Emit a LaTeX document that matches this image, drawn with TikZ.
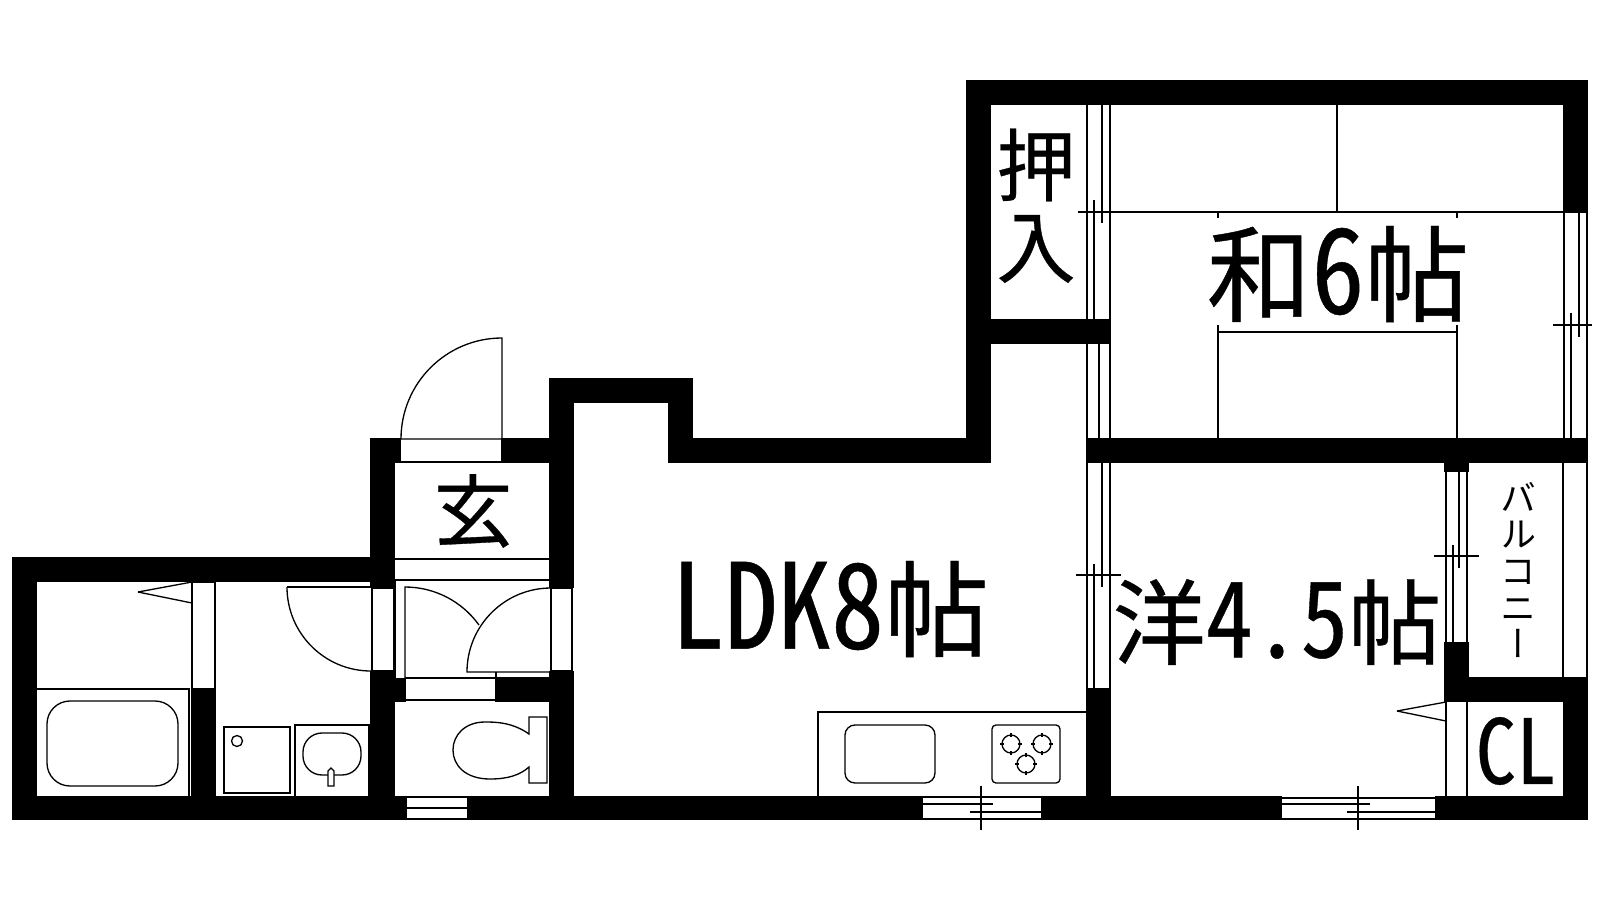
\documentclass[tikz,border=0pt]{standalone}
\usepackage{graphicx}
\usepackage{fontspec}
\usepackage{tikz}
\newfontfamily\jpfont[RawFeature=+hwid,FakeBold=0.4]{Noto Sans CJK JP}
\newfontfamily\jpvfont[RawFeature=+vert]{Noto Sans CJK JP}
\newcommand*{\tallch}[1]{\scalebox{1.02}[1.13]{#1}}
\tikzset{
	wall/.style={fill=black,draw=none},
	thin line/.style={line width=0.75pt,black},
	room label/.style={inner sep=0pt,font=\jpfont\fontsize{59.5}{59.5}\selectfont},
	small label/.style={inner sep=0pt,font=\jpfont\fontsize{45}{45}\selectfont},
}

\begin{document}
\begin{tikzpicture}[x=0.02cm,y=-0.02cm,thin line]
			\useasboundingbox (0,0) rectangle (1600,900);
			% thin lines first
			\draw (1087,105)--(1087,319);
			\draw (1110,105)--(1110,319);
			\draw (1102,105)--(1102,223);
			\draw (1094,200)--(1094,319);
			\draw (1087,344)--(1087,438);
			\draw (1099,344)--(1099,438);
			\draw (1110,344)--(1110,438);
			\draw (1087,463)--(1087,688);
			\draw (1110,463)--(1110,688);
			\draw (1102,463)--(1102,587);
			\draw (1094,564)--(1094,688);
			\draw (1076,575)--(1121,575);
			\draw (1078,212)--(1563,212);
			\draw (1337,105)--(1337,212);
			\draw (1218,212)--(1218,218);
			\draw (1457,212)--(1457,218);
			\draw (1218,325)--(1218,438);
			\draw (1457,325)--(1457,438);
			\draw (1218,332)--(1457,332);
			\draw (1564,213)--(1564,438);
			\draw (1587,213)--(1587,438);
			\draw (1579,213)--(1579,337);
			\draw (1571,313)--(1571,438);
			\draw (1553,325)--(1592,325);
			\draw (1563,463)--(1563,677);
			\draw (1587,463)--(1587,690);
			\draw (1446,472)--(1446,642);
			\draw (1467,472)--(1467,642);
			\draw (1459,472)--(1459,568);
			\draw (1453,545)--(1453,642);
			\draw (1434,556)--(1479,556);
			\draw (1446,702)--(1446,796);
			\draw (1467,702)--(1467,796);
			\draw (1397,711)--(1446,702);
			\draw (1397,711)--(1446,721);
			\draw (1282,798)--(1435,798);
			\draw (1282,804)--(1370,804);
			\draw (1347,812)--(1435,812);
			\draw (1282,819)--(1435,819);
			\draw (1358,786)--(1358,830);
			\draw (923,797)--(1041,797);
			\draw (923,804)--(993,804);
			\draw (970,812)--(1041,812);
			\draw (923,819)--(1041,819);
			\draw (981,786)--(981,830);
			\draw (407,797)--(467,797);
			\draw (407,808)--(467,808);
			\draw (407,819)--(467,819);
			\draw (818,796)--(818,712)--(1086,712);
			\draw[rounded corners=0.2cm] (845,725) rectangle (935,783);
			\draw[rounded corners=0.08cm] (992,725) rectangle (1060,783);
			\foreach \bx/\by in {1011/744,1042/744,1026/764}{
				\draw (\bx,\by) circle (0.18cm);
				\draw (\bx-11,\by)--(\bx-7,\by);
				\draw (\bx+7,\by)--(\bx+11,\by);
				\draw (\bx,\by-11)--(\bx,\by-7);
				\draw (\bx,\by+7)--(\bx,\by+11);
			}
			% entrance and hall
			\draw (401,439)--(502,439)--(502,338) arc (270:180:101);
			\draw (401,462)--(501,462);
			\draw (395,559)--(549,559);
			\draw (395,580)--(549,580);
			\draw (395,580)--(395,678);
			\draw (372,588)--(372,671);
			\draw (394,588)--(394,671);
			\draw (372,588)--(394,588);
			\draw (372,671)--(394,671);
			\draw (551,588)--(572,588)--(572,671)--(551,671)--cycle;
			\draw (405,678)--(405,587) arc (270:324.4:91);
			\draw (551,588) arc (270:180:84)--(551,672);
			\draw (405,678)--(496,678)--(496,672);
			\draw (406,700)--(495,700);
			\draw (529,734) .. controls (512,722) and (495,722) .. (485,722) .. controls (465,722) and (453,735) .. (453,750) .. controls (453,765) and (465,779) .. (490,779) .. controls (508,779) and (520,775) .. (529,767)--(529,783)--(547,783)--(547,717)--(529,717)--cycle;
			% bath and washroom
			\draw (192,688)--(192,582)--(215,582)--(215,688);
			\draw (138,592)--(192,582);
			\draw (138,592)--(192,603);
			\draw (37,689)--(189,689)--(189,796);
			\draw[rounded corners=0.46cm] (47,701) rectangle (178,786);
			\draw (224,727) rectangle (290,793);
			\draw (237,741) circle (0.11cm);
			\draw (295,796)--(295,725)--(369,725)--(369,796);
			\draw[rounded corners=0.38cm] (303,733) rectangle (361,775);
			\draw[fill=white] (328,786)--(328,771)--(331,768)--(334,771)--(334,786)--cycle;
			\draw (287,587)--(371,587);
			\draw (287,587) arc (180:90:84);
			% walls
			\fill[wall] (12,557) rectangle (395,582);
			\fill[wall] (12,557) rectangle (37,820);
			\fill[wall] (12,796) rectangle (407,820);
			\fill[wall] (467,796) rectangle (923,820);
			\fill[wall] (1041,796) rectangle (1282,820);
			\fill[wall] (1435,796) rectangle (1588,820);
			\fill[wall] (191,688) rectangle (216,796);
			\fill[wall] (370,438) rectangle (395,588);
			\fill[wall] (370,671) rectangle (395,796);
			\fill[wall] (395,678) rectangle (406,702);
			\fill[wall] (495,677) rectangle (549,702);
			\fill[wall] (370,438) rectangle (401,463);
			\fill[wall] (501,438) rectangle (549,463);
			\fill[wall] (549,378) rectangle (574,588);
			\fill[wall] (549,671) rectangle (574,796);
			\fill[wall] (549,378) rectangle (693,403);
			\fill[wall] (668,378) rectangle (693,463);
			\fill[wall] (668,438) rectangle (991,463);
			\fill[wall] (966,80) rectangle (991,463);
			\fill[wall] (966,80) rectangle (1588,105);
			\fill[wall] (1563,80) rectangle (1588,213);
			\fill[wall] (991,319) rectangle (1111,344);
			\fill[wall] (1086,438) rectangle (1588,463);
			\fill[wall] (1086,688) rectangle (1111,796);
			\fill[wall] (1444,463) rectangle (1469,472);
			\fill[wall] (1444,642) rectangle (1469,702);
			\fill[wall] (1444,677) rectangle (1588,702);
			\fill[wall] (1563,677) rectangle (1588,820);
			% labels
			\node[room label] (washitsu) at (1338,274) {和\tallch{6}帖};
			\node[room label] (ldk) at (830,609) {\tallch{LDK8}帖};
			\node[room label,font=\jpfont\fontsize{53}{53}\selectfont] (yoshitsu) at (1277,622) {洋\tallch{4.5}帖};
			\node[small label] (oshiire1) at (1036,165) {押};
			\node[small label] (oshiire2) at (1036,249) {入};
			\node[small label] (genkan) at (473,511) {玄};
			\node[small label,font=\jpfont\fontsize{45}{45}\selectfont] (cl) at (1516,751) {\tallch{CL}};
			\node[inner sep=0pt,align=center,font=\jpvfont\fontsize{20.5}{20.8}\selectfont] (balcony) at (1518,570) {バ\\ル\\コ\\ニ\\ー};
		\end{tikzpicture}
\end{document}
